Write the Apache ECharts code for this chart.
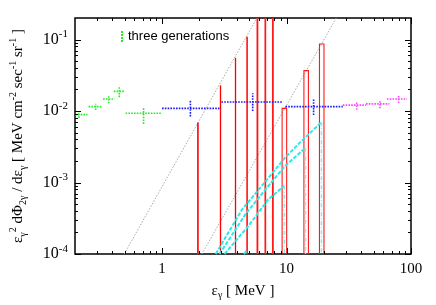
<!DOCTYPE html>
<html><head><meta charset="utf-8">
<script src="https://cdn.jsdelivr.net/npm/echarts@6/dist/echarts.min.js"></script>
<style>html,body{margin:0;padding:0;background:#fff}#c{width:436px;height:305px}</style>
</head><body><div id="c"></div>
<script>
// ---- data ----
// green ("three generations") points with error bars
const greenX   = [0.215, 0.293, 0.373, 0.454, 0.711];
const greenY   = [0.0089, 0.0115, 0.0147, 0.0188, 0.0093];
const greenXLo = [0.19, 0.257, 0.336, 0.41, 0.51];
const greenXHi = [0.252, 0.33, 0.415, 0.50, 1.0];
const greenYLo = [0.0080, 0.0103, 0.0128, 0.0156, 0.0066];
const greenYHi = [0.0098, 0.0126, 0.0165, 0.0216, 0.0114];
// blue points
const blueX   = [1.69, 5.35, 16.5];
const blueY   = [0.0109, 0.0134, 0.0115];
const blueXLo = [1.0, 3.0, 9.8];
const blueXHi = [2.9, 9.3, 28.3];
const blueYLo = [0.0084, 0.0100, 0.0088];
const blueYHi = [0.0143, 0.0177, 0.0149];
// magenta points
const magX   = [36.6, 56.3, 79.6];
const magY   = [0.0121, 0.0126, 0.0147];
const magXLo = [28.3, 43.5, 64];
const magXHi = [43.5, 67, 93];
const magYLo = [0.0104, 0.0109, 0.0129];
const magYHi = [0.0134, 0.0142, 0.0168];
// red bars (lines / boxes)
const barLeft  = [1.93, 2.93, 3.87, 4.80, 5.80, 6.72, 7.72, 9.22, 13.8, 18.4];
const barRight = [1.955, 2.93, 3.87, 4.85, 5.88, 6.80, 7.82, 10.03, 15.0, 20.0];
const barTop   = [0.0068, 0.0228, 0.0555, 0.107, 1, 1, 1, 0.0109, 0.0367, 0.0866];
// cyan curves
const cyanAX = [2.70, 4.39, 7.13, 9.63, 12.97, 19.1];
const cyanAY = [1e-4, 4.18e-4, 1.15e-3, 2.18e-3, 3.70e-3, 6.98e-3];
const cyanBX = [2.90, 4.72, 7.13, 9.63, 14.2];
const cyanBY = [1e-4, 3.68e-4, 8.87e-4, 1.67e-3, 3.06e-3];
const cyanCX = [3.18, 4.98, 7.13, 9.63];
const cyanCY = [1e-4, 2.51e-4, 5.8e-4, 9.0e-4];
const cyanDX = [4.55, 4.85];
const cyanDY = [1e-4, 1.13e-4];
// gray guide lines
const gray1X = [0.497, 5.78];
const gray1Y = [1e-4, 0.2];
const gray2X = [2.09, 25.1];
const gray2Y = [1e-4, 0.2];
// axes
const xMin = 0.2, xMax = 100, yMin = 1e-4, yMax = 0.2;
const xTickVals = [1, 10, 100];
const xTickLabels = ['1', '10', '100'];
const yTickVals = [1e-4, 1e-3, 1e-2, 1e-1];
const yTickExp = ['-4', '-3', '-2', '-1'];
const xMinorTicks = [0.3,0.4,0.5,0.6,0.7,0.8,0.9,2,3,4,5,6,7,8,9,20,30,40,50,60,70,80,90];
const yMinorTicks = [2e-4,3e-4,4e-4,5e-4,6e-4,7e-4,8e-4,9e-4,2e-3,3e-3,4e-3,5e-3,6e-3,7e-3,8e-3,9e-3,
                     2e-2,3e-2,4e-2,5e-2,6e-2,7e-2,8e-2,9e-2];

const serif = '"Liberation Serif", "Times New Roman", serif';
const sans = '"Liberation Sans", Arial, sans-serif';

function zip(xs, ys) { return xs.map((x, i) => [x, ys[i]]); }
function errData(x, y, xl, xh, yl, yh) { return x.map((v, i) => [v, y[i], xl[i], xh[i], yl[i], yh[i]]); }
function matchIdx(vals, v) {
  for (let i = 0; i < vals.length; i++) if (Math.abs(Math.log10(v) - Math.log10(vals[i])) < 1e-6) return i;
  return -1;
}

function errSeries(name, color, data) {
  return {
    name: name, type: 'custom', clip: true, silent: true, z: 5,
    itemStyle: {color: color},
    data: data,
    renderItem: function (params, api) {
      const x = api.value(0), y = api.value(1);
      const a = api.coord([api.value(2), y]), b = api.coord([api.value(3), y]);
      const c = api.coord([x, api.value(4)]), d = api.coord([x, api.value(5)]);
      const st = {stroke: color, lineWidth: 1.6, lineDash: [1.6, 1.2], fill: null};
      return {type: 'group', children: [
        {type: 'line', shape: {x1: a[0], y1: a[1], x2: b[0], y2: b[1]}, style: st},
        {type: 'line', shape: {x1: c[0], y1: c[1], x2: d[0], y2: d[1]}, style: st}
      ]};
    }
  };
}

const tickData = [];
xTickVals.forEach(v => tickData.push([v, 1e-3, 0, 1]));
xMinorTicks.forEach(v => tickData.push([v, 1e-3, 0, 0]));
yTickVals.forEach(v => tickData.push([1, v, 1, 1]));
yMinorTicks.forEach(v => tickData.push([1, v, 1, 0]));

const cyanStyle = {color: '#2ee8e8', width: 2, type: [4, 1.5]};
const dropStyle = {color: '#7ff0f0', width: 1.5, type: [4, 2, 1, 2]};

const option = {
  animation: false,
  grid: {left: 66, right: 25, top: 18, bottom: 48, show: true, borderColor: '#000', borderWidth: 1.5},
  legend: {
    left: 116, top: 25, itemWidth: 2, itemHeight: 11, itemGap: 6,
    textStyle: {fontFamily: sans, fontSize: 13, color: '#000'},
    data: [{name: 'three generations', icon: 'path://M0,0H2V2H0Z M0,3H2V5H0Z M0,6H2V8H0Z M0,9H2V11H0Z', itemStyle: {color: '#22ee22'}}]
  },
  xAxis: {
    type: 'log', logBase: 10, min: xMin, max: xMax,
    axisLine: {show: false}, axisTick: {show: false}, splitLine: {show: false},
    axisLabel: {
      margin: 8, showMinLabel: true, showMaxLabel: true,
      formatter: function (v) { const i = matchIdx(xTickVals, v); return i < 0 ? '' : xTickLabels[i]; },
      fontFamily: serif, fontSize: 15, color: '#000'
    },
    name: '{n|ε}{sub|γ}{n| [ MeV ]}', nameLocation: 'middle', nameGap: 28,
    nameTextStyle: {
      rich: {
        n: {fontFamily: serif, fontSize: 15, color: '#000', lineHeight: 18},
        sub: {fontFamily: serif, fontSize: 10, color: '#000', verticalAlign: 'bottom', lineHeight: 18}
      }
    }
  },
  yAxis: {
    type: 'log', logBase: 10, min: yMin, max: yMax,
    axisLine: {show: false}, axisTick: {show: false}, splitLine: {show: false},
    axisLabel: {
      margin: 7,
      formatter: function (v) { const i = matchIdx(yTickVals, v); return i < 0 ? '' : '{b|10}{s|' + yTickExp[i] + '}'; },
      rich: {
        b: {fontFamily: serif, fontSize: 16, color: '#000', lineHeight: 21},
        s: {fontFamily: serif, fontSize: 11, color: '#000', verticalAlign: 'top', lineHeight: 21}
      }
    },
    name: '{n|ε}{sub|γ}{sup|2}{n| dΦ}{sub|2γ}{n| / dε}{sub|γ}{n| [ MeV cm}{sup|-2}{n| sec}{sup|-1}{n| sr}{sup|-1}{n| ]}',
    nameLocation: 'middle', nameRotate: 90, nameGap: 47,
    nameTextStyle: {
      rich: {
        n: {fontFamily: serif, fontSize: 15, color: '#000', lineHeight: 20},
        sub: {fontFamily: serif, fontSize: 10, color: '#000', verticalAlign: 'bottom', lineHeight: 20},
        sup: {fontFamily: serif, fontSize: 10, color: '#000', verticalAlign: 'top', lineHeight: 20}
      }
    }
  },
  series: [
    {type: 'line', data: zip(gray1X, gray1Y), symbol: 'none', silent: true, z: 1,
     lineStyle: {color: '#aaaaaa', width: 1, type: [1.5, 1.5]}},
    {type: 'line', data: zip(gray2X, gray2Y), symbol: 'none', silent: true, z: 1,
     lineStyle: {color: '#aaaaaa', width: 1, type: [1.5, 1.5]}},
    {
      type: 'custom', clip: true, silent: true, z: 3,
      data: barLeft.map((x, i) => [x, barTop[i], barRight[i]]),
      renderItem: function (params, api) {
        const p0 = api.coord([api.value(0), yMin]);
        const p1 = api.coord([api.value(2), api.value(1)]);
        const w = p1[0] - p0[0];
        if (w < 0.5) {
          const x = Math.round(p0[0]) + 0.5;
          return {type: 'line', shape: {x1: x, y1: p0[1], x2: x, y2: p1[1]}, style: {stroke: '#ff0000', lineWidth: 1.3}};
        }
        return {type: 'rect', shape: {x: p0[0], y: p1[1], width: w, height: p0[1] - p1[1]},
                style: {fill: null, stroke: '#ff1a1a', lineWidth: 1.1}};
      }
    },
    {type: 'line', data: zip(cyanAX, cyanAY), symbol: 'none', silent: true, z: 4, lineStyle: cyanStyle},
    {type: 'line', data: zip(cyanBX, cyanBY), symbol: 'none', silent: true, z: 4, lineStyle: cyanStyle},
    {type: 'line', data: zip(cyanCX, cyanCY), symbol: 'none', silent: true, z: 4, lineStyle: cyanStyle},
    {type: 'line', data: zip(cyanDX, cyanDY), symbol: 'none', silent: true, z: 4, lineStyle: cyanStyle},
    {type: 'line', data: [[cyanAX[cyanAX.length-1], cyanAY[cyanAY.length-1]], [cyanAX[cyanAX.length-1], yMin]], symbol: 'none', silent: true, z: 4, lineStyle: dropStyle},
    {type: 'line', data: [[cyanBX[cyanBX.length-1], cyanBY[cyanBY.length-1]], [cyanBX[cyanBX.length-1], yMin]], symbol: 'none', silent: true, z: 4, lineStyle: dropStyle},
    {type: 'line', data: [[cyanCX[cyanCX.length-1], cyanCY[cyanCY.length-1]], [cyanCX[cyanCX.length-1], yMin]], symbol: 'none', silent: true, z: 4, lineStyle: dropStyle},
    errSeries('three generations', '#22ee22', errData(greenX, greenY, greenXLo, greenXHi, greenYLo, greenYHi)),
    errSeries('blue', '#1a1aff', errData(blueX, blueY, blueXLo, blueXHi, blueYLo, blueYHi)),
    errSeries('magenta', '#ff44ff', errData(magX, magY, magXLo, magXHi, magYLo, magYHi)),
    {
      type: 'custom', clip: false, silent: true, z: 10,
      data: tickData,
      renderItem: function (params, api) {
        const cs = params.coordSys;
        const kind = api.value(2), len = api.value(3) ? 6 : 3;
        const st = {stroke: '#000', lineWidth: 1};
        if (kind === 0) {
          const px = Math.round(api.coord([api.value(0), 1e-3])[0]) + 0.5;
          const yb = cs.y + cs.height, yt = cs.y;
          return {type: 'group', children: [
            {type: 'line', shape: {x1: px, y1: yb, x2: px, y2: yb - len}, style: st},
            {type: 'line', shape: {x1: px, y1: yt, x2: px, y2: yt + len}, style: st}
          ]};
        } else {
          const py = Math.round(api.coord([1, api.value(1)])[1]) + 0.5;
          const xl = cs.x, xr = cs.x + cs.width;
          return {type: 'group', children: [
            {type: 'line', shape: {x1: xl, y1: py, x2: xl + len, y2: py}, style: st},
            {type: 'line', shape: {x1: xr, y1: py, x2: xr - len, y2: py}, style: st}
          ]};
        }
      }
    }
  ]
};
const chart = echarts.init(document.getElementById('c'));
chart.setOption(option);
</script>
</body></html>
